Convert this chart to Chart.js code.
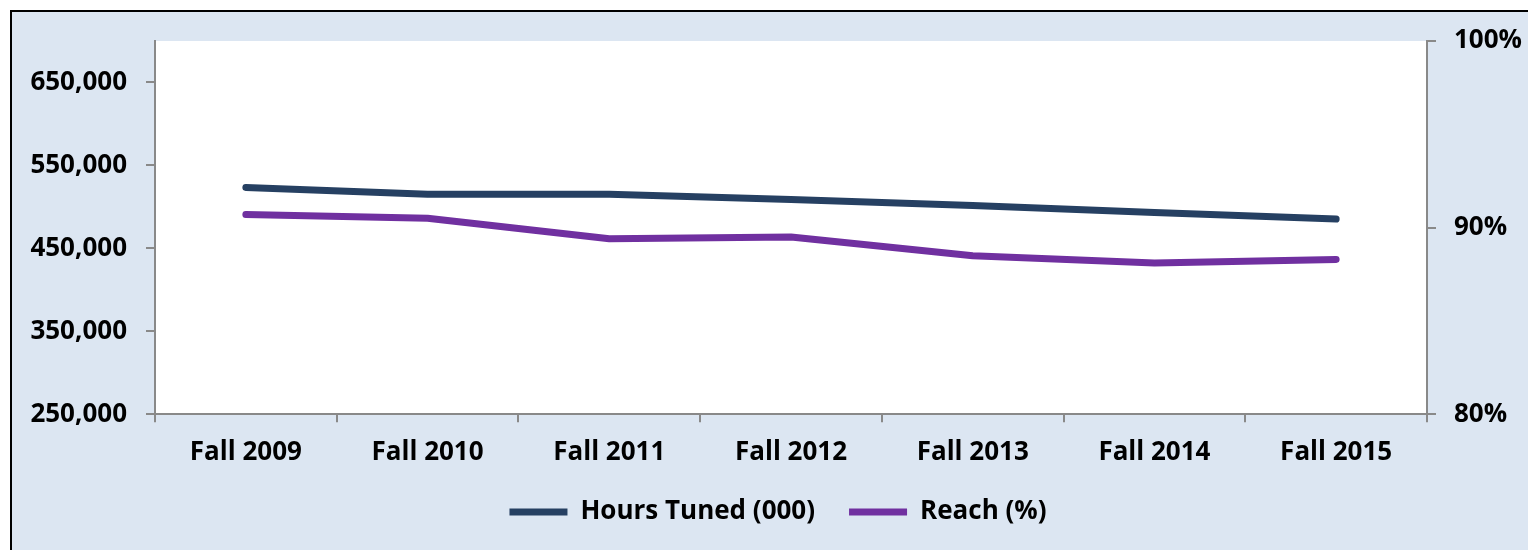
<!DOCTYPE html>
<html><head><meta charset="utf-8">
<script src="https://cdn.jsdelivr.net/npm/chart.js@4.4.1/dist/chart.umd.min.js"></script>
<style>
html,body{margin:0;padding:0;background:#fff;width:1528px;height:550px;overflow:hidden;}
#frame{position:absolute;left:10px;top:10px;width:1600px;height:600px;background:#DCE6F2;border-left:2px solid #000;border-top:2px solid #000;}
#c{position:absolute;left:0;top:0;}
</style></head><body>
<div id="frame"></div>
<canvas id="c" width="1528" height="550"></canvas>
<script>
const categories = ['Fall 2009','Fall 2010','Fall 2011','Fall 2012','Fall 2013','Fall 2014','Fall 2015'];
const hoursTuned = [523500, 515400, 515400, 509000, 501600, 493400, 485300];
const reachPct = [90.7, 90.5, 89.4, 89.5, 88.5, 88.1, 88.3];
const leftTicks = [250000, 350000, 450000, 550000, 650000];
const rightTicks = [80, 90, 100];
const seriesNames = ['Hours Tuned (000)', 'Reach (%)'];

const NAVY = '#264062', PURPLE = '#7030A0', AXIS = '#898989';
Chart.defaults.font.family = "'Open Sans', sans-serif";
Chart.defaults.font.weight = 'bold';
Chart.defaults.font.size = 26;
Chart.defaults.color = '#000';

const plotBg = {
  id: 'plotBg',
  beforeDraw(chart) {
    const {ctx, chartArea: a} = chart;
    ctx.save(); ctx.fillStyle = '#fff';
    ctx.fillRect(a.left, a.top, a.right - a.left, a.bottom - a.top);
    ctx.restore();
  }
};

new Chart(document.getElementById('c'), {
  type: 'line',
  data: {
    labels: categories,
    datasets: [
      {label: seriesNames[0], data: hoursTuned, yAxisID: 'y', borderColor: NAVY, backgroundColor: NAVY,
       borderWidth: 7, pointRadius: 0, borderCapStyle: 'round', borderJoinStyle: 'round', tension: 0},
      {label: seriesNames[1], data: reachPct, yAxisID: 'y2', borderColor: PURPLE, backgroundColor: PURPLE,
       borderWidth: 7, pointRadius: 0, borderCapStyle: 'round', borderJoinStyle: 'round', tension: 0}
    ]
  },
  options: {
    responsive: false,
    animation: false,
    layout: {padding: {top: 41, left: 28, right: 0, bottom: 15}},
    plugins: {
      tooltip: {enabled: false},
      legend: {
        position: 'bottom',
        labels: {usePointStyle: true, pointStyle: 'line', pointStyleWidth: 58, padding: 34,
                 font: {size: 26, weight: 'bold'}, color: '#000'}
      }
    },
    scales: {
      x: {
        offset: true,
        grid: {drawOnChartArea: false, drawTicks: true, tickLength: 8, color: AXIS, lineWidth: 2, offset: true},
        border: {display: true, color: AXIS, width: 2},
        ticks: {padding: 15, maxRotation: 0, autoSkip: false},
        afterFit(s) { s.height = 50.7; }
      },
      y: {
        position: 'left', min: 250000, max: 700000,
        grid: {drawOnChartArea: false, drawTicks: true, tickLength: 9, color: AXIS, lineWidth: 2},
        border: {display: true, color: AXIS, width: 2},
        ticks: {padding: 19, callback: v => v.toLocaleString('en-US')},
        afterBuildTicks(s) { s.ticks = leftTicks.map(v => ({value: v})); },
        afterFit(s) { s.width = 127; }
      },
      y2: {
        position: 'right', min: 80, max: 100,
        grid: {drawOnChartArea: false, drawTicks: true, tickLength: 9, color: AXIS, lineWidth: 2},
        border: {display: true, color: AXIS, width: 2},
        ticks: {padding: 18, callback: v => v + '%'},
        afterBuildTicks(s) { s.ticks = rightTicks.map(v => ({value: v})); },
        afterFit(s) { s.width = 101; }
      }
    }
  },
  plugins: [plotBg]
});
</script>
</body></html>
